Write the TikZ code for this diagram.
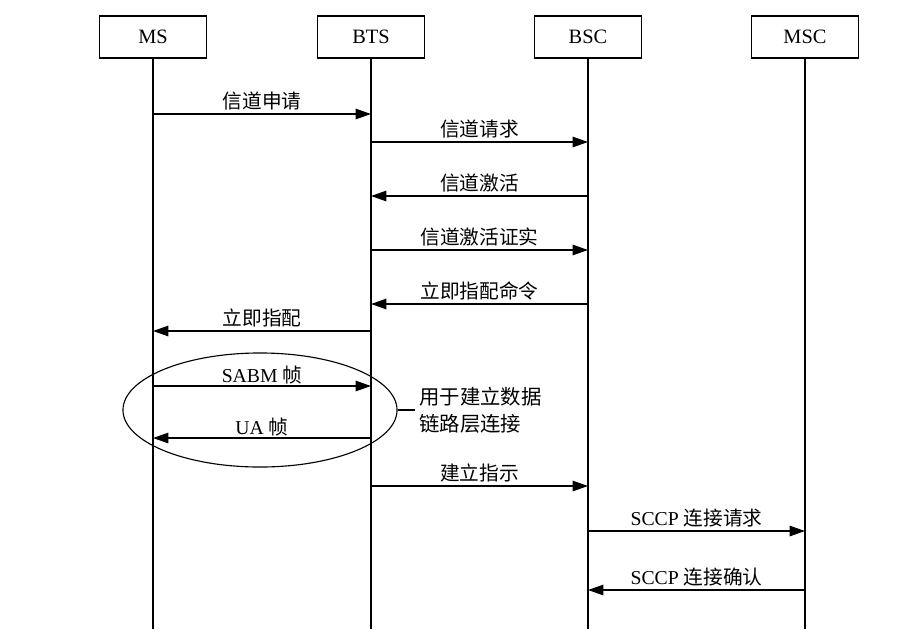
\documentclass[tikz,border=0pt]{standalone}
\usepackage{fontspec}
\setmainfont{Liberation Serif}
\newfontfamily\cjk{Noto Sans CJK SC}
\usepackage{tikz}
\usetikzlibrary{arrows.meta, positioning, shapes.geometric, calc}

\begin{document}
\begin{tikzpicture}[x=0.025cm, y=-0.025cm,
  entity/.style={rectangle, draw, line width=0.9pt, minimum width=2.675cm, minimum height=1.05cm,
                 font=\fontsize{14.5}{16}\selectfont, inner sep=0pt},
  life/.style={line width=1pt},
  msg/.style={-{Triangle[length=11pt, width=7.5pt]}, line width=0.9pt},
  lbl/.style={above, font=\fontsize{14}{16}\selectfont, inner sep=2pt}
]
\useasboundingbox (0,0) rectangle (898,638);

% entities
\node[entity] (MS)  at (153,37) {MS};
\node[entity] (BTS) at (371,37) {BTS};
\node[entity] (BSC) at (588,37) {BSC};
\node[entity] (MSC) at (805,37) {MSC};

% lifelines
\foreach \e in {MS, BTS, BSC, MSC} {
  \coordinate (\e end) at ($(\e.south)+(0,570)$);
  \draw[life] (\e.south) -- (\e end);
}

% messages
\draw[msg] (MS |- 0,114) -- (BTS |- 0,114) node[lbl, midway] {\cjk 信道申请};
\draw[msg] (BTS |- 0,142) -- (BSC |- 0,142) node[lbl, midway] {\cjk 信道请求};
\draw[msg] (BSC |- 0,196) -- (BTS |- 0,196) node[lbl, midway] {\cjk 信道激活};
\draw[msg] (BTS |- 0,250) -- (BSC |- 0,250) node[lbl, midway] {\cjk 信道激活证实};
\draw[msg] (BSC |- 0,304) -- (BTS |- 0,304) node[lbl, midway] {\cjk 立即指配命令};
\draw[msg] (BTS |- 0,331) -- (MS |- 0,331) node[lbl, midway] {\cjk 立即指配};
\draw[msg] (MS |- 0,386) -- (BTS |- 0,386) node[lbl, midway, inner sep=1pt] {SABM {\cjk 帧}};
\draw[msg] (BTS |- 0,438) -- (MS |- 0,438) node[lbl, midway, inner sep=1pt] {UA {\cjk 帧}};
\draw[msg] (BTS |- 0,486) -- (BSC |- 0,486) node[lbl, midway] {\cjk 建立指示};
\draw[msg] (BSC |- 0,531) -- (MSC |- 0,531) node[lbl, midway] {SCCP {\cjk 连接请求}};
\draw[msg] (MSC |- 0,590) -- (BSC |- 0,590) node[lbl, midway] {SCCP {\cjk 连接确认}};

% data link setup
\node[ellipse, draw, line width=0.8pt, minimum width=6.85cm, minimum height=2.85cm] (dlink) at (260,410) {};
\node[align=left, font=\fontsize{14.5}{19}\cjk, inner sep=0pt, anchor=west] (note) at (419,410)
  {用于建立数据\\链路层连接};
\coordinate (noteleft) at ($(note.west)+(-4,0)$);
\draw[line width=0.9pt] (dlink.east) -- (noteleft);
\end{tikzpicture}
\end{document}
